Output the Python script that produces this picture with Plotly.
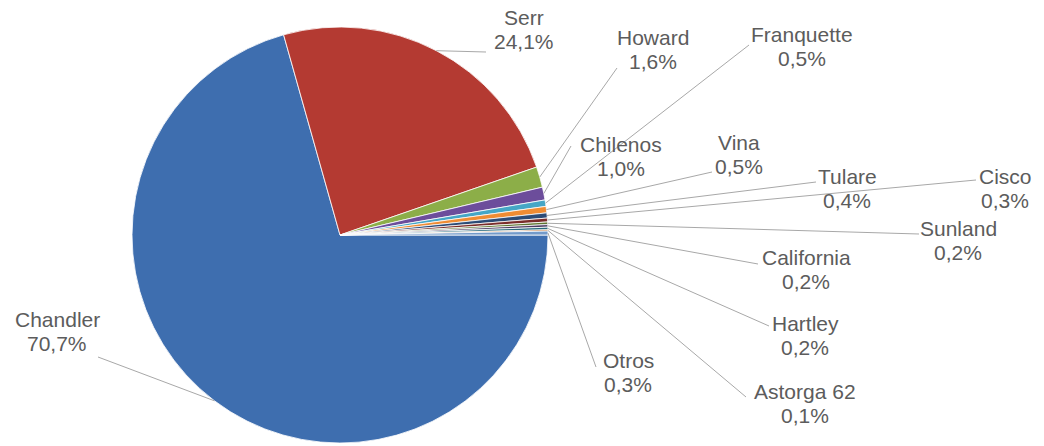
import math
import plotly.graph_objects as go

# ---- data ----
varieties = ["Chandler", "Serr", "Howard", "Chilenos", "Franquette", "Vina", "Tulare",
             "Cisco", "Sunland", "California", "Hartley", "Astorga 62", "Otros"]
shares = [70.7, 24.1, 1.6, 1.0, 0.5, 0.5, 0.4, 0.3, 0.2, 0.2, 0.2, 0.1, 0.3]

colors = ["#3e6eaf", "#b43a32", "#8cae48", "#6c4d9b", "#45a6c6", "#ef8c33", "#2c4b76",
          "#7a2c2a", "#5f7530", "#4d3b62", "#276a7c", "#b65708", "#729aca"]

W, H = 1044, 446
CX, CY, R = 340, 235, 208  # pie layout in px

# label layout: (center x, baseline of name line) and leader end point, in px
label_pos = {
    "Chandler": (57, 327, 98, 357),
    "Serr": (524, 25, 486, 52),
    "Howard": (653, 45, 617, 68),
    "Chilenos": (621, 152, 571, 146),
    "Franquette": (802, 42, 749, 45),
    "Vina": (739, 150, 712, 172),
    "Tulare": (847, 184, 816, 182),
    "Cisco": (1005, 184, 976, 180),
    "Sunland": (958, 236, 919, 234),
    "California": (806, 265, 758, 264),
    "Hartley": (805, 331, 769, 326),
    "Astorga 62": (805, 399, 746, 397),
    "Otros": (628, 368, 596, 367),
}

FS = 21
TXT = "#5c5c5c"
LINE = "#a8a8a8"

fig = go.Figure(go.Pie(
    labels=varieties, values=shares, sort=False, direction="clockwise", rotation=90,
    marker=dict(colors=colors, line=dict(color="white", width=0.8)),
    textinfo="none", hoverinfo="label+percent", showlegend=False,
    domain=dict(x=[(CX - R) / W, (CX + R) / W], y=[(H - CY - R) / H, (H - CY + R) / H]),
))

def px2paper(x, y):
    return x / W, 1 - y / H

total = sum(shares)
cum = 0.0
shapes = []
annotations = []
for name, v in zip(varieties, shares):
    mid = (cum + v / 2) / total * 2 * math.pi
    cum += v
    sx = CX + R * math.cos(mid)
    sy = CY + R * math.sin(mid)
    lx, ly, ex, ey = label_pos[name]
    x0, y0 = px2paper(sx, sy)
    x1, y1 = px2paper(ex, ey)
    shapes.append(dict(type="line", xref="paper", yref="paper", x0=x0, y0=y0, x1=x1, y1=y1,
                       line=dict(color=LINE, width=1)))
    val_txt = f"{v:.1f}".replace(".", ",") + "%"
    for txt, base in ((name, ly), (val_txt, ly + 24)):
        ax, ay = px2paper(lx, base - 7.5)
        annotations.append(dict(text=txt, x=ax, y=ay, xref="paper", yref="paper",
                                xanchor="center", yanchor="middle", showarrow=False,
                                font=dict(family="Liberation Sans, Arial, sans-serif", size=FS, color=TXT)))

fig.update_layout(width=W, height=H, margin=dict(l=0, r=0, t=0, b=0),
                  paper_bgcolor="white", plot_bgcolor="white",
                  shapes=shapes, annotations=annotations)

fig.write_html("out.html")
